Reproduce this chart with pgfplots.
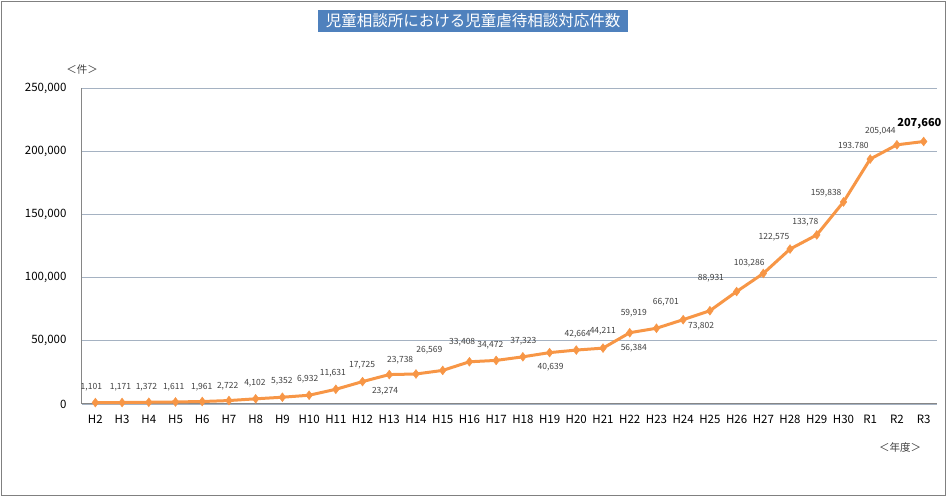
\documentclass[border=0pt]{standalone}
\usepackage{fontspec}
\setmainfont{Noto Sans CJK JP}
\usepackage{pgfplots}
\pgfplotsset{compat=1.18}
\usepackage{pgfplotstable}

\definecolor{lineorange}{RGB}{247,150,70}
\definecolor{titleblue}{RGB}{79,129,189}
\definecolor{gridcol}{RGB}{165,178,194}
\definecolor{axisgray}{RGB}{134,134,134}
\definecolor{labgray}{RGB}{64,64,64}
\definecolor{framegray}{RGB}{128,128,128}

% 児童虐待相談対応件数 (H2 = 0 ... R3 = 31)
\pgfplotstableread{
x y
0 1101
1 1171
2 1372
3 1611
4 1961
5 2722
6 4102
7 5352
8 6932
9 11631
10 17725
11 23274
12 23738
13 26569
14 33408
15 34472
16 37323
17 40639
18 42664
19 44211
20 56384
21 59919
22 66701
23 73802
24 88931
25 103286
26 122575
27 133778
28 159838
29 193780
30 205044
31 207660
}\casedata

% data labels, placed as in the original
\pgfplotstableread{
x y lab
-0.15 13400 1,101
0.94 13400 1,171
1.91 13400 1,372
2.93 13400 1,611
3.98 13400 1,961
4.95 14240 2,722
5.97 16600 4,102
6.98 18200 5,352
7.95 19800 6,932
8.89 24500 11,631
9.98 30850 17,725
10.84 10280 23,274
11.41 34800 23,738
12.5 42700 26,569
13.73 49050 33,408
14.78 46700 34,472
16.02 49800 37,323
17.04 29300 40,639
18.05 55400 42,664
18.99 57750 44,211
20.15 72000 59,919
20.15 44300 56,384
21.35 80700 66,701
22.67 61700 73,802
23.04 99700 88,931
24.47 111500 103,286
25.4 132100 122,575
26.57 144000 133,78
27.35 166900 159,838
28.37 204900 193.780
29.38 216000 205,044
}\labdata

\begin{document}
\begin{tikzpicture}
\path[use as bounding box] (0pt,0pt) rectangle (947pt,497pt);
\draw[framegray, line width=1.5pt] (1.5pt,1.5pt) rectangle (945.5pt,495.5pt);
\node[fill=titleblue, text=white, minimum width=310pt, minimum height=22pt, inner sep=0pt,
  font=\fontsize{15.5}{17}\selectfont] at (473pt,476pt) {児童相談所における児童虐待相談対応件数};
\node[text=labgray, font=\fontsize{10.5}{12}\selectfont] at (82pt,427pt) {＜件＞};
\node[text=labgray, font=\fontsize{10.5}{12}\selectfont] at (900pt,49pt) {＜年度＞};

\begin{axis}[
    at={(82pt,93pt)}, anchor=south west,
    scale only axis,
    width=855pt, height=316pt,
    xmin=-0.5, xmax=31.5,
    ymin=0, ymax=250000,
    enlargelimits=false,
    axis x line=bottom, axis y line=left,
    axis line style={-, draw=axisgray, line width=1pt},
    major tick length=0pt,
    ymajorgrids,
    grid style={gridcol, line width=0.8pt},
    xtick={0,...,31},
    xticklabels={H2,H3,H4,H5,H6,H7,H8,H9,H10,H11,H12,H13,H14,H15,H16,H17,H18,H19,H20,H21,H22,H23,H24,H25,H26,H27,H28,H29,H30,R1,R2,R3},
    ytick={0,50000,100000,150000,200000,250000},
    yticklabels={0,{50,000},{100,000},{150,000},{200,000},{250,000}},
    scaled y ticks=false,
    yticklabel style={font=\fontsize{11.5}{13}\selectfont, xshift=-12pt},
    xticklabel style={font=\fontsize{11.5}{13}\selectfont, yshift=-8pt},
    clip=false,
]
\addplot[lineorange, line width=3pt, mark=diamond*,
  mark options={fill=lineorange, draw=lineorange, line width=0.5pt, scale=2.2}]
  table[x=x, y=y] {\casedata};
\addplot[draw=none, mark=none, forget plot, nodes near coords, point meta=explicit symbolic,
  nodes near coords style={anchor=center, inner sep=0pt, text=labgray, font=\fontsize{8.5}{10}\selectfont}]
  table[x=x, y=y, meta=lab] {\labdata};
\addplot[draw=none, mark=none, forget plot, nodes near coords, point meta=explicit symbolic,
  nodes near coords style={anchor=center, inner sep=0pt, text=black, font=\bfseries\fontsize{11}{13}\selectfont}]
  coordinates {(30.84,221500) [207,660]};
\end{axis}
\end{tikzpicture}
\end{document}
